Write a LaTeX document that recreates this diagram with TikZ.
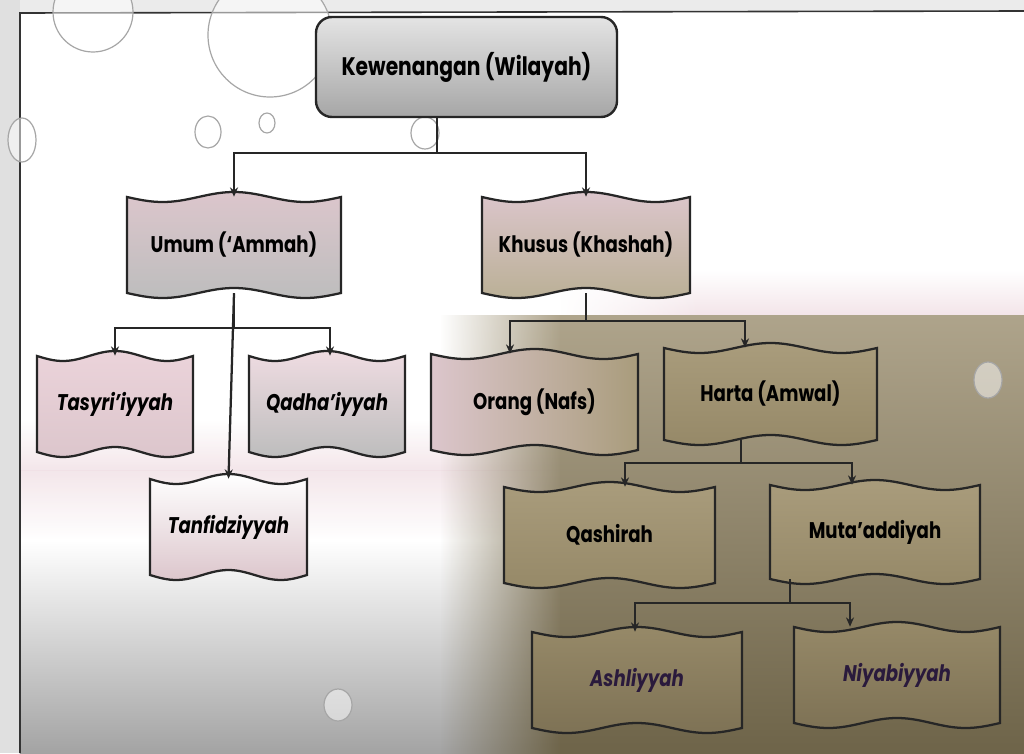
\documentclass[tikz,border=0pt]{standalone}
\usepackage{fontspec}
\setmainfont{Poppins}[FakeStretch=0.8]
\usetikzlibrary{arrows.meta,calc,fadings}
\definecolor{rootTop}{HTML}{E4E4E4}
\definecolor{rootBot}{HTML}{A6A6A6}
\definecolor{pinkL}{HTML}{EBD3DA}
\definecolor{pinkM}{HTML}{DCC6CC}
\definecolor{grayM}{HTML}{BDBDBD}
\definecolor{tanL}{HTML}{A99C7C}
\definecolor{tanM}{HTML}{968968}
\definecolor{tanD}{HTML}{7E7255}
\definecolor{brownBg}{HTML}{9A8D6E}
\definecolor{brownBgD}{HTML}{6E6449}
\definecolor{textPurple}{HTML}{2A1A3C}
\begin{document}
\begin{tikzpicture}[x=0.75pt,y=-0.75pt,
  pics/wavy/.style 2 args={code={
    \path[pic actions] plot[domain=0:1,samples=41,smooth] ({-#1/2+#1*\x},{-#2/2+5*sin(540*\x)})
      -- plot[domain=1:0,samples=41,smooth] ({-#1/2+#1*\x},{#2/2+5*sin(540*\x)}) -- cycle;
  }},
  wshape/.style={draw=black!85, line width=1.7pt},
  box/.style 2 args={minimum width=#1*0.75pt, minimum height=#2*0.75pt, inner sep=0pt,
    font=\fontsize{17}{19}\selectfont\bfseries},
  itbox/.style={font=\fontsize{17}{19}\selectfont\bfseries\itshape},
  conn/.style={line width=1.7pt, draw=black!85},
  arr/.style={conn, -{Stealth[length=7pt,width=6pt]}},
  bubble/.style={draw=black!35, line width=0.9pt, fill=white, fill opacity=0.5}
]
\useasboundingbox (0,0) rectangle (1024,753);
% ---------- background ----------
\fill[white] (0,0) rectangle (1024,753);
\fill[black!12] (0,0) rectangle (20,753);
\fill[black!8] (20,0) rectangle (1024,12);
\shade[top color=white, bottom color=black!36] (20,540) rectangle (1024,753);
\shade[top color=white, bottom color=pinkL!70, opacity=0.8] (20,420) rectangle (1024,470);
\shade[top color=pinkL!70, bottom color=white, opacity=0.8] (20,470) rectangle (1024,540);
\shade[top color=white, bottom color=pinkL!60] (700,270) rectangle (1024,315);
\shade[top color=white, bottom color=pinkL!60, path fading=west] (560,270) rectangle (701,315);
\shade[top color=brownBg!80, bottom color=brownBgD] (560,315) rectangle (1024,753);
\shade[top color=brownBg!80, bottom color=brownBgD, path fading=west] (440,315) rectangle (561,753);
\draw[black!80, line width=1.2pt] (20,753) -- (20,13) -- (1024,11);
% bubbles
\draw[bubble] (93,12) circle (40);
\draw[bubble] (270,35) circle (62);
\draw[bubble] (208,132) ellipse (13 and 16);
\draw[bubble] (267,123) ellipse (8 and 10);
\draw[bubble] (425,133) ellipse (14 and 16);
\draw[bubble] (22,140) ellipse (14 and 22);
\draw[bubble] (988,380) ellipse (14 and 18);
\draw[bubble] (338,705) ellipse (14 and 16);
% ---------- shapes ----------
\pic[wshape, top color=pinkM, bottom color=grayM] at (234,245) {wavy={214}{96}};
\pic[wshape, top color=pinkM, bottom color=tanL!80] at (586,245) {wavy={208}{96}};
\pic[wshape, top color=pinkL, bottom color=pinkM] at (115,404) {wavy={156}{96}};
\pic[wshape, top color=pinkL!80, bottom color=grayM] at (327,404) {wavy={156}{96}};
\pic[wshape, top color=white, bottom color=pinkM] at (228.5,527) {wavy={157}{96}};
\pic[wshape, left color=pinkM, right color=tanL] at (534.5,402) {wavy={207}{96}};
\pic[wshape, top color=tanL, bottom color=tanM] at (770.5,394) {wavy={213}{92}};
\pic[wshape, top color=tanL, bottom color=tanM] at (609.5,535) {wavy={211}{96}};
\pic[wshape, top color=tanL, bottom color=tanM] at (875,532) {wavy={210}{94}};
\pic[wshape, top color=tanM, bottom color=tanD] at (637,680) {wavy={210}{96}};
\pic[wshape, top color=tanM, bottom color=tanD] at (897,675) {wavy={206}{96}};
% ---------- nodes ----------
\node[draw=black!85, line width=1.8pt, rounded corners=12pt, top color=rootTop, bottom color=rootBot,
  minimum width=301*0.75pt, minimum height=100*0.75pt, inner sep=0pt,
  font=\fontsize{19}{22}\selectfont\bfseries] (root) at (466.5,67) {Kewenangan (Wilayah)};
\node[box={214}{96}] (umum) at (234,245) {Umum (`Ammah)};
\node[box={208}{96}] (khusus) at (586,245) {Khusus (Khashah)};
\node[box={156}{96}, itbox] (tasyri) at (115,404) {Tasyri'iyyah};
\node[box={156}{96}, itbox] (qadha) at (327,404) {Qadha'iyyah};
\node[box={157}{96}, itbox] (tanfidz) at (228.5,527) {Tanfidziyyah};
\node[box={207}{96}] (orang) at (534.5,402) {Orang (Nafs)};
\node[box={213}{92}] (harta) at (770.5,394) {Harta (Amwal)};
\node[box={211}{96}] (qashirah) at (609.5,535) {Qashirah};
\node[box={210}{94}] (muta) at (875,532) {Muta'addiyah};
\node[box={210}{96}, itbox, text=textPurple] (ashl) at (637,680) {Ashliyyah};
\node[box={206}{96}, itbox, text=textPurple] (niyab) at (897,675) {Niyabiyyah};
% ---------- connectors ----------
\coordinate (j1) at (437,153);
\draw[conn] (root.south -| j1) -- (j1);
\draw[arr] (j1) -| (umum.north);
\draw[arr] (j1) -| (khusus.north);
\coordinate (j2) at (234,328);
\draw[conn] (umum.south) -- (j2);
\draw[arr] (j2) -| (tasyri.north);
\draw[arr] (j2) -| ($(qadha.north)+(3,0)$);
\draw[arr] (umum.south) -- (tanfidz.north);
\coordinate (j3) at (586,321);
\draw[conn] (khusus.south) -- (j3);
\draw[arr] (j3) -| ($(orang.north)+(-24.5,0)$);
\draw[arr] (j3) -| ($(harta.north)+(-25.5,0)$);
\coordinate (j4) at (741,463);
\draw[conn] (harta.south -| j4) -- (j4);
\draw[arr] (j4) -| ($(qashirah.north)+(15.5,0)$);
\draw[arr] (j4) -| ($(muta.north)+(-23,0)$);
\coordinate (j5) at (790,603);
\draw[conn] (muta.south -| j5) -- (j5);
\draw[arr] (j5) -| ($(ashl.north)+(-2,0)$);
\draw[arr] (j5) -| ($(niyab.north)+(-47,0)$);
\end{tikzpicture}
\end{document}
